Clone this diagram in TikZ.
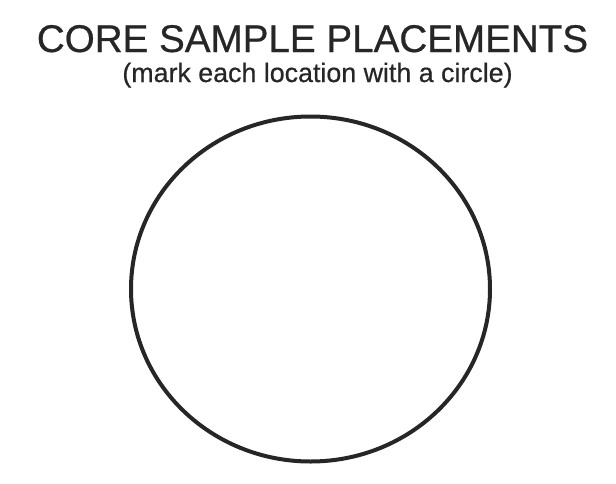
\documentclass[tikz,border=0pt]{standalone}
\usepackage{fontspec}
\setmainfont{Liberation Sans}
\newfontfamily\scanfont[FakeBold=0.6]{Liberation Sans}
\begin{document}
\begin{tikzpicture}[x=1pt,y=-1pt,
  titlestyle/.style={font=\scanfont\fontsize{38.6}{40}\selectfont, text=black!85, inner sep=0pt, anchor=base},
  subtitlestyle/.style={font=\scanfont\fontsize{26.8}{28}\selectfont, text=black!85, inner sep=0pt, anchor=base},
  ringstyle/.style={draw=black!85, line width=4pt}]
\useasboundingbox (0,0) rectangle (616,483);
\fill[white] (0,0) rectangle (616,483);
\node[titlestyle] (title) at (312.5,52) {CORE SAMPLE PLACEMENTS};
\node[subtitlestyle] (subtitle) at (317.5,82) {(mark each location with a circle)};
\draw[ringstyle] (310.5,289) ellipse [x radius=179.5, y radius=172.5];
\end{tikzpicture}
\end{document}
